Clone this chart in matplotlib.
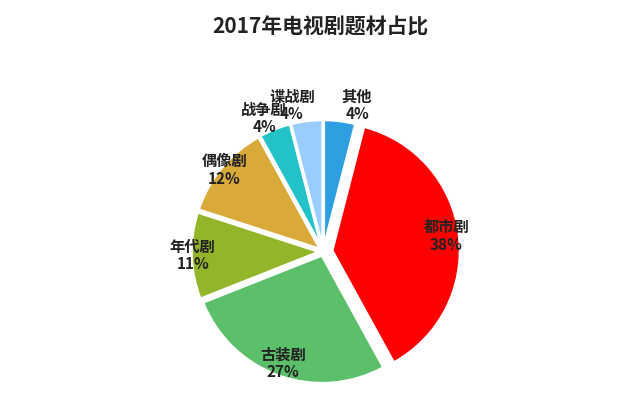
import matplotlib
matplotlib.use('Agg')
import matplotlib.pyplot as plt
import numpy as np

plt.rcParams['font.family'] = ['Noto Sans CJK SC', 'DejaVu Sans']

# data, clockwise from 12 o'clock
genres = ['其他', '都市剧', '古装剧', '年代剧', '偶像剧', '战争剧', '谍战剧']
shares = [4, 38, 27, 11, 12, 4, 4]
colors = ['#2E9FE0', '#FF0000', '#5CBF6A', '#93B52A', '#D9A93A', '#22C2C8', '#99CCFF']
explode = [0.03, 0.07, 0.03, 0.03, 0.03, 0.03, 0.03]
label_dist = [1.15, 0.97, 0.93, 1.02, 1.0, 1.12, 1.15]
x_shift = [0.12, 0, 0, 0, 0, -0.05, -0.1]

fig = plt.figure(figsize=(6.4, 4.16), dpi=100)
ax = fig.add_axes([0.255, 0.0, 0.5, 0.79])

wedges, _ = ax.pie(shares, colors=colors, startangle=90, counterclock=False,
                   explode=explode, wedgeprops=dict(edgecolor='white', linewidth=2))

for w, g, s, d, dx in zip(wedges, genres, shares, label_dist, x_shift):
    ang = np.deg2rad((w.theta1 + w.theta2) / 2)
    r = w.r * d
    ax.text(r * np.cos(ang) + dx, r * np.sin(ang), f'{g}\n{s}%', ha='center', va='center',
            fontsize=11, fontweight='bold', color='#222222', linespacing=1.1)

ax.set_aspect('equal')
fig.text(0.5, 0.935, '2017年电视剧题材占比', ha='center', va='center',
         fontsize=15, fontweight='bold', color='#222222')

fig.savefig('out.png', dpi=100)
